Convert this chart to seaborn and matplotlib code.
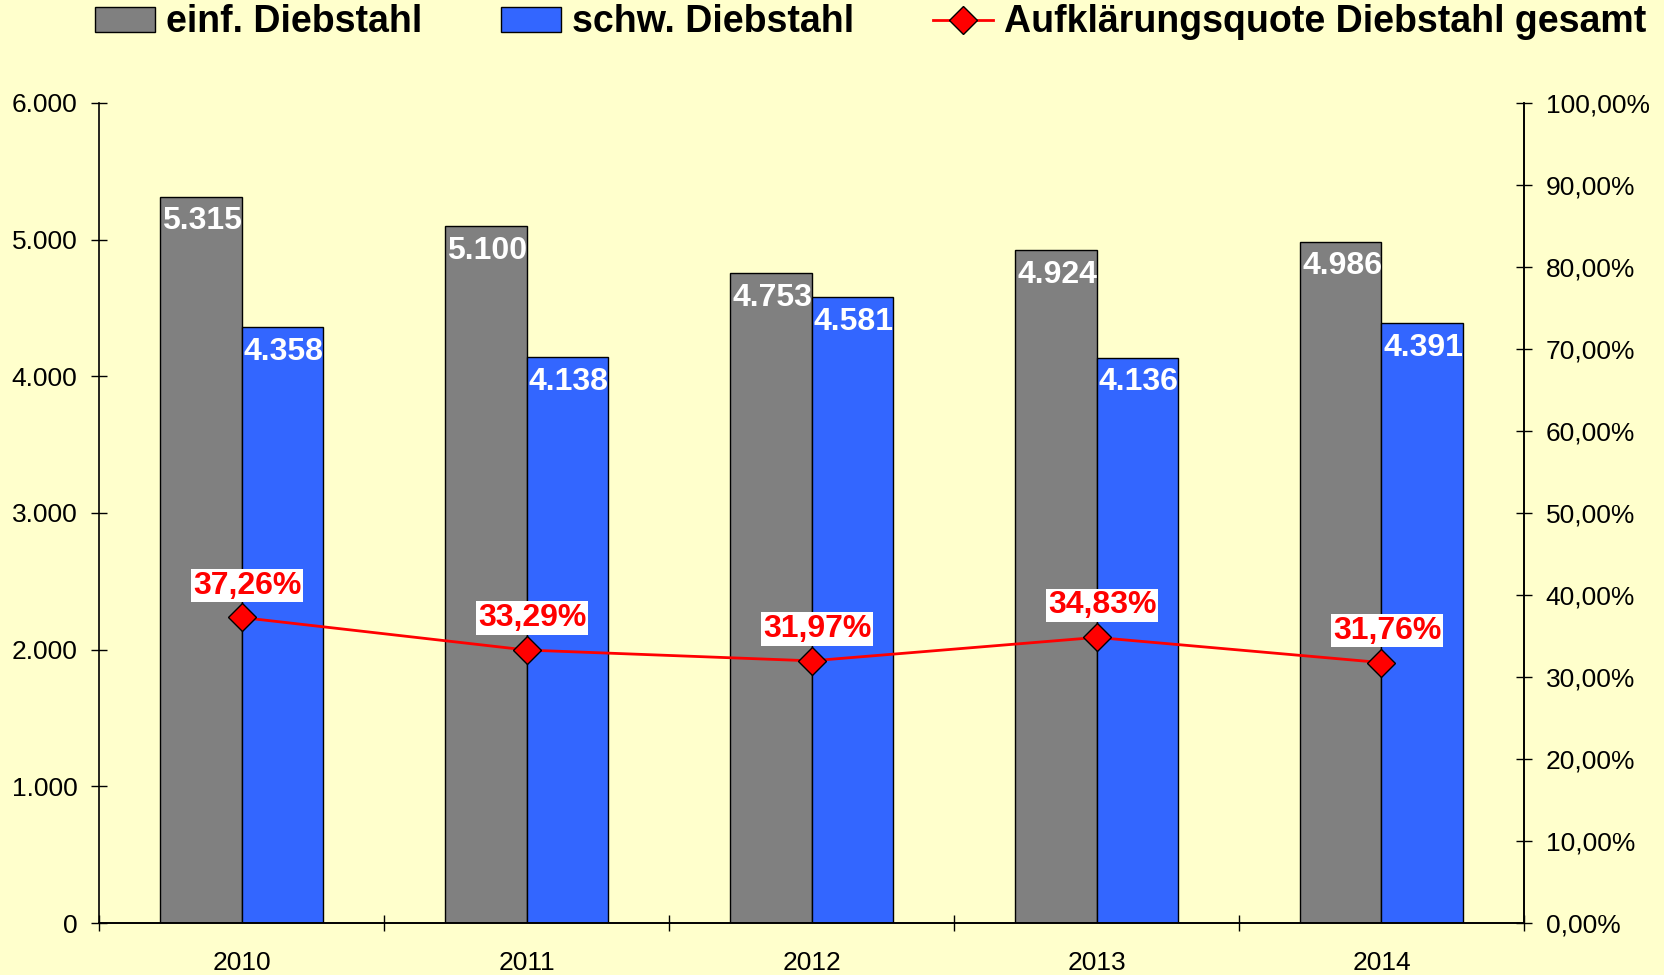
import numpy as np
import pandas as pd
import seaborn as sns
import matplotlib.pyplot as plt
from matplotlib.ticker import FuncFormatter, FixedLocator

# Daten
jahre = ['2010', '2011', '2012', '2013', '2014']
einf_diebstahl = [5315, 5100, 4753, 4924, 4986]
schw_diebstahl = [4358, 4138, 4581, 4136, 4391]
quote = [37.26, 33.29, 31.97, 34.83, 31.76]

serien = ['einf. Diebstahl', 'schw. Diebstahl']
linie_name = 'Aufklärungsquote Diebstahl gesamt'

df = pd.DataFrame({
    'Jahr': jahre * 2,
    'Anzahl': einf_diebstahl + schw_diebstahl,
    'Art': [serien[0]] * len(jahre) + [serien[1]] * len(jahre),
})

bg = '#FFFFCC'
plt.rcParams['font.family'] = ['Liberation Sans', 'DejaVu Sans']

fig, ax = plt.subplots(figsize=(16.65, 9.75), dpi=100)
fig.patch.set_facecolor(bg)
ax.set_facecolor(bg)
fig.subplots_adjust(left=0.0595, right=0.9153, top=0.8944, bottom=0.0533)

sns.barplot(data=df, x='Jahr', y='Anzahl', hue='Art', palette=['#808080', '#3366FF'],
            width=0.57, edgecolor='black', linewidth=1, saturation=1, ax=ax)

de_int = lambda v: f'{v:,.0f}'.replace(',', '.')
for cont in ax.containers:
    for bar in cont:
        h = bar.get_height()
        ax.annotate(de_int(h), (bar.get_x() + bar.get_width() / 2, h),
                    xytext=(1, -7), textcoords='offset points', ha='center', va='top',
                    color='white', fontsize=23, fontweight='bold')

ax2 = ax.twinx()
sns.lineplot(x=np.arange(len(jahre)), y=quote, ax=ax2, color='#FF0000', linewidth=2,
             marker='D', markersize=14, markerfacecolor='#FF0000', markeredgecolor='black',
             markeredgewidth=1, label=linie_name)
if ax2.get_legend():
    ax2.get_legend().remove()

for i, q in enumerate(quote):
    ax2.annotate(f'{q:.2f}%'.replace('.', ','), (i, q), xytext=(4, 23), textcoords='offset points',
                 ha='center', va='center', color='#FF0000', fontsize=23, fontweight='bold',
                 bbox=dict(boxstyle='square,pad=0.05', facecolor='white', edgecolor='none'))

ax.set_ylim(0, 6000)
ax.yaxis.set_major_locator(FixedLocator(np.arange(0, 6001, 1000)))
ax.yaxis.set_major_formatter(FuncFormatter(lambda v, p: de_int(v)))
ax2.set_ylim(0, 100)
ax2.yaxis.set_major_locator(FixedLocator(np.arange(0, 101, 10)))
ax2.yaxis.set_major_formatter(FuncFormatter(lambda v, p: f'{v:.2f}%'.replace('.', ',')))

ax.set_xlim(-0.5, len(jahre) - 0.5)
ax.set_xticks(np.arange(-0.5, len(jahre), 1.0))
ax.set_xticklabels([])
ax.set_xticks(np.arange(len(jahre)), minor=True)
ax.set_xticklabels(jahre, minor=True)

ax.tick_params(axis='x', which='major', direction='inout', length=11, width=1)
ax.tick_params(axis='x', which='minor', length=0, pad=20, labelsize=19)
ax.tick_params(axis='y', direction='inout', length=11, width=1, pad=10, labelsize=19)
ax2.tick_params(axis='y', direction='inout', length=11, width=1, pad=10, labelsize=19)

ax.set_xlabel('')
ax.set_ylabel('')
ax2.set_ylabel('')
for a in (ax, ax2):
    a.spines['top'].set_visible(False)
    for s in a.spines.values():
        s.set_linewidth(1.2)
ax2.spines['left'].set_visible(False)

h1, l1 = ax.get_legend_handles_labels()
h2, l2 = ax2.get_legend_handles_labels()
if ax.get_legend():
    ax.get_legend().remove()
fig.legend(h1 + h2, l1 + l2, loc='center', bbox_to_anchor=(0.523, 0.977), ncol=3, frameon=False,
           prop={'size': 27, 'weight': 'bold'}, handlelength=1.6, handletextpad=0.3,
           columnspacing=2.1, handleheight=0.65)

fig.savefig('out.png', dpi=100, facecolor=bg)
